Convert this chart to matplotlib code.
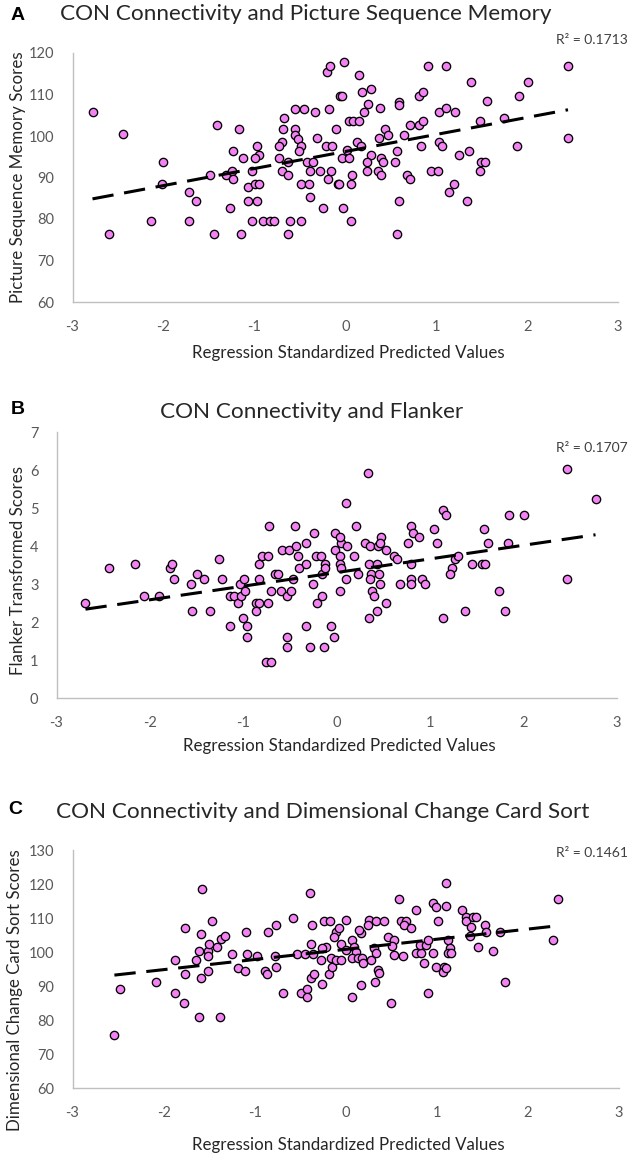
import numpy as np
import matplotlib
matplotlib.use("Agg")
import matplotlib.pyplot as plt

plt.rcParams['font.family'] = ['Lato', 'DejaVu Sans']
plt.rcParams['axes.unicode_minus'] = False

# ---------------- data ----------------
xA = [-2.78, -2.45, -2.00, -2.02, -2.14, -2.60, -1.72, -1.64, -1.72, -1.41, -1.49, -1.31, -1.25, -1.23,
      -1.23, -1.27, -1.44, -1.15, -1.17, -1.13, -0.97, -0.95, -0.99, -1.03, -1.07, -0.99, -0.95, -1.07,
      -0.97, -1.03, -0.91, -0.83, -0.78, -0.61, -0.49, -0.63, -0.67, -0.69, -0.55, -0.55, -0.52, -0.70,
      -0.73, -0.49, -0.51, -0.73, -0.63, -0.70, -0.63, -0.49, -0.40, -0.39, -0.25, -0.02, -0.39, -0.28,
      -0.16, -0.19, -0.08, -0.42, -0.35, -0.31, -0.33, -0.45, -0.55, -0.18, -0.10, -0.21, -0.15, -0.20,
      -0.17, -0.01, -0.06, -0.04, -0.04, -0.07,
      0.15, 0.18, 0.28, 0.25, 0.21, 0.38, 0.04, 0.09, 0.15, 0.59, 0.59, 0.81, 0.85, 0.91, 1.11, 1.38,
      1.56, 1.03, 1.11, 1.21, 0.71, 0.81, 0.85, 0.44, 0.47, 0.37, 0.65, 0.13, 0.17, 0.02, 0.04, 0.28,
      0.24, 0.39, 0.42, 0.55, 0.57, 0.24, 0.36, 0.39, 0.07, 0.06, 0.06, 0.59, 0.57, 0.68, 0.71, 0.83,
      1.03, 1.06, 0.94, 1.02, 1.25, 1.36, 1.49, 1.54, 1.48, 1.14, 1.20, 1.34, 1.48, 1.75, 1.91, 2.01,
      1.89, 2.45, 2.45]
yA = [105.7, 100.4, 93.7, 88.4, 79.5, 76.5, 86.6, 84.3, 79.5, 102.6, 90.6, 90.6, 91.6, 96.3,
      89.7, 82.7, 76.5, 76.5, 101.7, 94.6, 97.7, 95.4, 94.6, 91.5, 87.6, 88.4, 88.4, 84.3,
      84.3, 79.5, 79.5, 79.5, 79.5, 79.5, 79.5, 76.5, 104.3, 101.7, 101.7, 100.3, 99.3, 98.6,
      97.7, 97.7, 96.3, 94.6, 93.7, 91.5, 90.6, 88.4, 88.4, 85.3, 82.7, 82.7, 91.5, 91.5,
      91.5, 89.7, 88.4, 93.7, 93.7, 99.4, 105.7, 106.5, 106.5, 106.5, 101.7, 97.7, 97.7, 115.4,
      116.9, 117.8, 109.6, 109.6, 94.6, 88.4,
      114.7, 110.7, 111.4, 107.6, 105.8, 106.7, 103.6, 103.6, 103.6, 108.3, 107.5, 109.6, 110.7, 116.9, 116.9, 112.9,
      108.4, 105.8, 106.7, 105.8, 102.6, 102.6, 103.6, 101.8, 100.3, 99.4, 100.3, 98.6, 97.7, 96.6, 94.6, 95.4,
      93.7, 94.6, 93.7, 93.7, 96.4, 91.5, 91.5, 90.6, 90.6, 88.4, 79.5, 84.3, 76.5, 90.6, 89.7, 97.7,
      98.6, 97.7, 91.5, 91.5, 95.4, 96.4, 93.7, 93.7, 91.5, 86.6, 88.4, 84.3, 103.6, 104.4, 109.6, 112.9,
      97.7, 116.9, 99.4]

xB = [-2.69, -2.44, -2.16, -2.06, -1.90, -1.79, -1.76, -1.74, -1.55, -1.36, -1.56, -1.50, -1.42, -1.26,
      -1.23, -1.14, -1.10, -1.06, -1.02, -1.04, -0.99, -0.98, -1.14, -1.00, -0.96, -0.96, -0.86, -0.83,
      -0.74, -0.86, -0.83, -0.83, -0.80, -0.74, -0.73, -0.76, -0.70, -0.70, -0.66, -0.63, -0.60, -0.53,
      -0.49, -0.59, -0.51, -0.44, -0.45, -0.41, -0.40, -0.33, -0.33, -0.24, -0.47, -0.25, -0.21, -0.16,
      -0.33, -0.06, -0.03, -0.53, -0.53, -0.29, -0.14, -0.22, -0.17, -0.13, -0.16, -0.13, -0.02, 0.05,
      -0.02, 0.04, 0.03, 0.05, 0.03, 0.10, 0.10,
      0.33, 0.21, 0.11, 0.18, 0.04, 0.23, 0.34, 0.37, 0.43, 0.45, 0.36, 0.38, 0.40, 0.46, 0.53, 0.43,
      0.35, 0.30, 0.36, 0.44, 0.47, 0.46, 0.53, 0.61, 0.64, 0.68, 0.80, 0.80, 0.91, 0.94, 0.80, 0.82,
      0.88, 0.76, 0.80, 1.04, 1.07, 1.14, 1.17, 1.14, 1.27, 1.30, 1.23, 1.21, 1.37, 1.45, 1.55, 1.59,
      1.58, 1.62, 1.83, 1.74, 1.80, 1.84, 2.00, 2.47, 2.47, 2.77]
yB = [2.51, 3.41, 3.52, 2.68, 2.68, 3.41, 3.52, 3.12, 2.30, 2.30, 2.99, 3.27, 3.12, 3.65,
      3.12, 2.68, 2.68, 2.51, 2.68, 2.99, 3.12, 2.82, 1.90, 2.10, 1.90, 1.61, 2.51, 2.51,
      2.51, 2.30, 3.12, 3.52, 3.75, 3.75, 4.53, 0.95, 0.95, 2.82, 3.27, 3.27, 2.82, 2.68,
      2.82, 3.90, 3.90, 4.00, 4.53, 3.75, 3.41, 3.52, 4.09, 4.33, 3.12, 2.99, 2.49, 2.68,
      1.90, 1.90, 1.61, 1.61, 1.33, 1.33, 1.33, 3.75, 3.75, 3.52, 3.27, 3.41, 4.33, 4.09,
      3.90, 3.75, 3.52, 3.41, 2.82, 3.12, 5.14,
      5.93, 4.53, 4.00, 3.75, 4.25, 3.27, 3.52, 3.27, 3.52, 3.27, 3.12, 2.82, 2.68, 2.99, 2.49, 2.30,
      2.10, 4.09, 4.00, 4.00, 4.23, 4.09, 3.90, 3.75, 3.65, 2.99, 3.12, 2.99, 3.12, 2.99, 4.53, 4.33,
      4.23, 4.09, 3.52, 4.44, 4.09, 4.96, 4.82, 2.10, 3.65, 3.75, 3.41, 3.27, 2.30, 3.52, 3.52, 3.52,
      4.44, 4.09, 4.09, 2.82, 2.30, 4.82, 4.82, 6.03, 3.12, 5.25]

xC = [-2.54, -2.48, -2.08, -1.88, -1.78, -1.88, -1.76, -1.76, -1.61, -1.38, -1.58, -1.59, -1.61, -1.64,
      -1.51, -1.50, -1.51, -1.51, -1.59, -1.41, -1.37, -1.33, -1.47, -1.25, -1.18, -1.11, -1.08, -0.97,
      -1.09, -0.89, -0.87, -0.85, -0.77, -0.78, -0.77, -0.69, -0.58, -0.49, -0.43, -0.43, -0.39, -0.37,
      -0.38, -0.54, -0.45, -0.36, -0.24, -0.17, -0.38, -0.35, -0.26, -0.18, -0.27, -0.22, -0.15, -0.16,
      -0.11, -0.05, -0.11, -0.07, -0.13, -0.05, -0.26, 0.00, 0.00,
      0.07, 0.09, 0.11, 0.07, 0.13, 0.18, 0.17, 0.15, 0.26, 0.33, 0.42, 0.24, 0.19, 0.28, 0.31, 0.33,
      0.35, 0.37, 0.32, 0.17, 0.07, 0.46, 0.53, 0.51, 0.53, 0.63, 0.50, 0.59, 0.61, 0.66, 0.64, 0.72,
      0.77, 0.77, 0.83, 0.81, 0.88, 0.90, 0.86, 0.96, 0.90, 0.96, 0.99, 1.10, 1.01, 1.12, 1.14, 1.12,
      1.16, 0.99, 1.08, 1.07, 1.10, 1.10, 1.28, 1.32, 1.32, 1.40, 1.43, 1.38, 1.36, 1.45, 1.53, 1.54,
      1.62, 1.69, 1.75, 2.33, 2.27]
yC = [75.6, 89.0, 91.3, 88.0, 84.9, 97.6, 93.4, 107.0, 81.0, 81.0, 118.4, 105.3, 100.3, 97.6,
      100.3, 102.4, 98.8, 94.4, 92.3, 101.6, 103.7, 104.7, 109.1, 99.3, 95.4, 94.4, 99.3, 98.8,
      105.8, 94.4, 93.4, 105.8, 107.9, 98.8, 95.7, 88.0, 110.1, 88.0, 89.0, 86.9, 117.3, 107.9,
      102.5, 99.3, 99.3, 99.3, 109.1, 109.1, 92.5, 93.4, 90.5, 93.4, 97.6, 101.6, 95.7, 98.1,
      97.6, 97.6, 106.0, 107.0, 104.5, 102.4, 101.1, 109.4, 100.6,
      103.5, 101.6, 100.1, 98.1, 98.1, 98.1, 105.5, 106.5, 109.4, 109.1, 109.1, 107.9, 96.7, 97.6, 101.1, 99.6,
      94.7, 93.7, 91.3, 90.3, 86.9, 104.5, 103.5, 101.8, 99.1, 98.9, 84.9, 115.5, 109.1, 109.1, 107.9, 107.0,
      112.5, 99.6, 99.6, 102.1, 102.1, 103.5, 96.7, 99.6, 87.8, 114.3, 113.3, 113.5, 109.1, 103.5, 101.1, 99.6,
      99.6, 95.7, 95.7, 94.2, 95.2, 120.4, 112.4, 110.4, 109.2, 110.2, 110.2, 107.5, 104.7, 101.6, 107.9, 106.0,
      100.3, 106.0, 91.3, 115.5, 103.5]

titles = ["CON Connectivity and Picture Sequence Memory",
          "CON Connectivity and Flanker",
          "CON Connectivity and Dimensional Change Card Sort"]
ylabels = ["Picture Sequence Memory Scores", "Flanker Transformed Scores",
           "Dimensional Change Card Sort Scores"]
r2_labels = ["R² = 0.1713", "R² = 0.1707", "R² = 0.1461"]
letters = ["A", "B", "C"]
xlabel = "Regression Standardized Predicted Values"
xticks = [-3, -2, -1, 0, 1, 2, 3]
yticksA = [60, 70, 80, 90, 100, 110, 120]
yticksB = [0, 1, 2, 3, 4, 5, 6, 7]
yticksC = [60, 70, 80, 90, 100, 110, 120, 130]

# ---------------- layout ----------------
W, H = 638, 1163
fig = plt.figure(figsize=(W / 100, H / 100), dpi=100)

def rect(l, r, t, b):
    return [l / W, 1 - b / H, (r - l) / W, (b - t) / H]

panels = [
    dict(x=xA, y=yA, yt=yticksA, box=(72.5, 618, 53, 302), title_xy=(306, 14),
         letter_xy=(18, 16), ylab_xy=(18, 177), xlab_y=353, r2_y=40),
    dict(x=xB, y=yB, yt=yticksB, box=(56.5, 617, 432, 698), title_xy=(312, 412),
         letter_xy=(18, 410), ylab_xy=(18, 570), xlab_y=746, r2_y=448),
    dict(x=xC, y=yC, yt=yticksC, box=(72.5, 619, 850, 1088), title_xy=(323, 812),
         letter_xy=(15, 810), ylab_xy=(15, 990), xlab_y=1145, r2_y=853),
]

gray_spine = '#BFBFBF'
tick_col = '#595959'
txt_col = '#262626'

for i, p in enumerate(panels):
    l, r, t, b = p['box']
    ax = fig.add_axes(rect(l, r, t, b))
    xs = np.array(p['x']); ys = np.array(p['y'])
    ax.scatter(xs, ys, s=36, facecolor='#F282F2', edgecolor='black', linewidth=0.95, zorder=3)
    k, c = np.polyfit(xs, ys, 1)
    xx = np.array([xs.min(), xs.max()])
    ax.plot(xx, k * xx + c, color='black', lw=2.2, dashes=(7, 3.5), zorder=4)
    ax.set_xlim(-3, 3)
    ax.set_ylim(p['yt'][0], p['yt'][-1])
    ax.set_xticks(xticks)
    ax.set_yticks(p['yt'])
    ax.tick_params(length=0, labelsize=10.5, labelcolor=tick_col)
    ax.tick_params(axis='y', pad=13)
    ax.tick_params(axis='x', pad=13)
    for s in ['top', 'right']:
        ax.spines[s].set_visible(False)
    for s in ['left', 'bottom']:
        ax.spines[s].set_color(gray_spine)
        ax.spines[s].set_linewidth(1.0)
    ax.set_facecolor('none')

    fig.text(p['title_xy'][0] / W, 1 - p['title_xy'][1] / H, titles[i], ha='center', va='center',
             fontsize=16.2, color=txt_col)
    fig.text(p['letter_xy'][0] / W, 1 - p['letter_xy'][1] / H, letters[i], ha='center', va='center',
             fontsize=14, fontweight='bold', family='Liberation Sans', color='black')
    fig.text(p['ylab_xy'][0] / W, 1 - p['ylab_xy'][1] / H, ylabels[i], ha='center', va='center',
             rotation=90, fontsize=12.2, color=txt_col)
    fig.text(((l + r) / 2 + 3) / W, 1 - p['xlab_y'] / H, xlabel, ha='center', va='center',
             fontsize=12.2, color=txt_col)
    fig.text(628 / W, 1 - p['r2_y'] / H, r2_labels[i], ha='right', va='center',
             fontsize=10, color='#404040')

fig.savefig('out.png', dpi=100)
